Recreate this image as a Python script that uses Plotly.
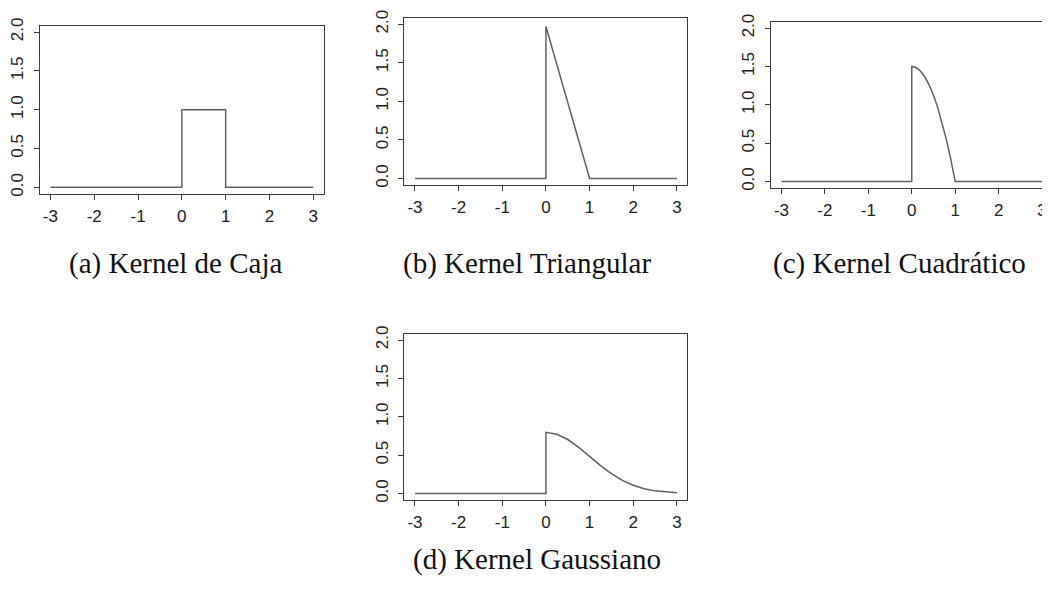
import plotly.graph_objects as go

# ---- data ----
x_ticks = [-3, -2, -1, 0, 1, 2, 3]
x_tick_labels = ["-3", "-2", "-1", "0", "1", "2", "3"]
y_ticks = [0.0, 0.5, 1.0, 1.5, 2.0]
y_tick_labels = ["0.0", "0.5", "1.0", "1.5", "2.0"]

caja_x = [-3, 0, 0, 1, 1, 3]
caja_y = [0, 0, 1, 1, 0, 0]

tri_x = [-3, 0, 0, 1, 3]
tri_y = [0, 0, 1.97, 0, 0]

cuad_x = [-3, 0, 0, 0.1, 0.2, 0.3, 0.4, 0.5, 0.6, 0.7, 0.8, 0.9, 1.0, 3]
cuad_y = [0, 0, 1.5, 1.485, 1.44, 1.365, 1.26, 1.125, 0.96, 0.765, 0.54, 0.285, 0.0, 0]

gaus_x = [-3, 0, 0, 0.25, 0.5, 0.75, 1.0, 1.25, 1.5, 1.75, 2.0, 2.25, 2.5, 2.75, 3.0]
gaus_y = [0, 0, 0.798, 0.773, 0.704, 0.602, 0.484, 0.365, 0.259, 0.172, 0.108, 0.063, 0.035, 0.018, 0.009]

captions = ["(a) Kernel de Caja", "(b) Kernel Triangular", "(c) Kernel Cuadrático", "(d) Kernel Gaussiano"]

# page body has a default 8px margin; work in screen pixels and subtract it
OFF = 8
W, H = 1050 - OFF, 591 - OFF
LINE = "#606060"
AX = "#3a3a3a"

fig = go.Figure()
series = [(caja_x, caja_y), (tri_x, tri_y), (cuad_x, cuad_y), (gaus_x, gaus_y)]
for i, (xs, ys) in enumerate(series):
    sfx = "" if i == 0 else str(i + 1)
    fig.add_trace(go.Scatter(x=xs, y=ys, mode="lines", line=dict(color=LINE, width=1.5),
                             xaxis="x" + sfx, yaxis="y" + sfx, showlegend=False, hoverinfo="skip"))

# plot boxes in screen pixels: (left, right, top, bottom), x-range
boxes = [
    ((37, 322, 18, 189), [-3.24, 3.24]),
    ((403, 687, 10, 180), [-3.24, 3.24]),
    ((771, 1050, 14, 183), [-3.24, 3.16]),
    ((403, 687, 332, 501), [-3.24, 3.24]),
]

def px(v):
    return (v - OFF) / W

def py(v):
    return 1 - (v - OFF) / H

tickfont = dict(family="Liberation Sans, Arial, sans-serif", size=17, color="#222")
layout = dict(width=W, height=H, margin=dict(l=0, r=0, t=0, b=0),
              paper_bgcolor="white", plot_bgcolor="white", showlegend=False)
for i, ((l, r, t, b), xr) in enumerate(boxes):
    sfx = "" if i == 0 else str(i + 1)
    layout["xaxis" + sfx] = dict(
        domain=[px(l), min(1.0, px(r))], range=xr, anchor="y" + sfx,
        tickmode="array", tickvals=x_ticks, ticktext=x_tick_labels,
        ticks="outside", ticklen=5, tickwidth=1, tickcolor=AX,
        showline=True, linecolor=AX, linewidth=1, mirror=True,
        showgrid=False, zeroline=False, tickfont=tickfont, ticklabelstandoff=2,
        ticklabeloverflow="allow", fixedrange=True)
    layout["yaxis" + sfx] = dict(
        domain=[py(b), py(t)], range=[-0.08, 2.08], anchor="x" + sfx,
        tickmode="array", tickvals=y_ticks, ticktext=y_tick_labels, tickangle=-90,
        ticks="outside", ticklen=5, tickwidth=1, tickcolor=AX,
        showline=True, linecolor=AX, linewidth=1, mirror=True,
        showgrid=False, zeroline=False, tickfont=tickfont, ticklabelstandoff=4,
        fixedrange=True)

fig.update_layout(**layout)

cap_pos = [(173, 260), (526, 260), (900, 260), (536, 562)]
for txt, (cx, cy) in zip(captions, cap_pos):
    fig.add_annotation(text=txt, x=px(cx), y=py(cy), xref="paper", yref="paper",
                       xanchor="center", yanchor="middle", showarrow=False,
                       font=dict(family="Liberation Serif, Times New Roman, serif", size=29, color="#111"))

fig.write_html("out.html")
